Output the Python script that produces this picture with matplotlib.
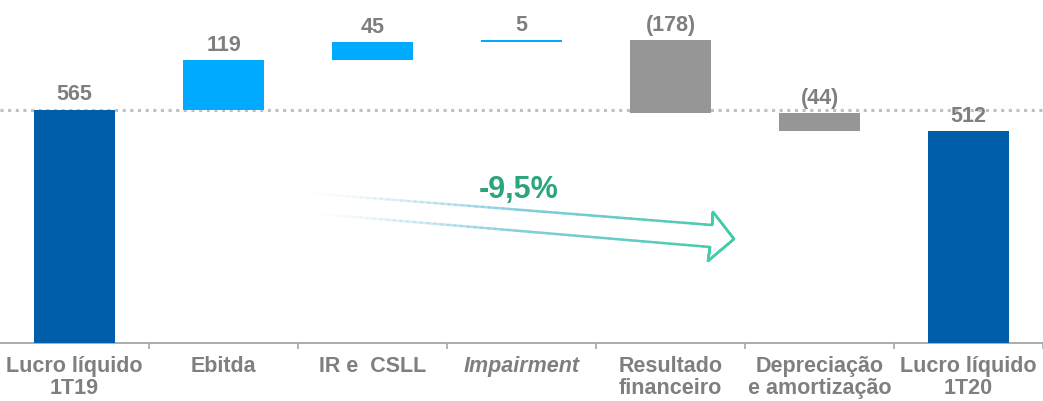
import numpy as np
import matplotlib
matplotlib.use("Agg")
import matplotlib.pyplot as plt
from matplotlib.collections import LineCollection
from matplotlib.colors import to_rgba

# ---- data ----
categories = ["Lucro líquido\n1T19", "Ebitda", "IR e  CSLL", "Impairment",
              "Resultado\nfinanceiro", "Depreciação\ne amortização", "Lucro líquido\n1T20"]
changes = [565, 119, 45, 5, -178, -44, 512]
kinds = ["total", "delta", "delta", "delta", "delta", "delta", "total"]
value_labels = ["565", "119", "45", "5", "(178)", "(44)", "512"]
growth_label = "-9,5%"

c_total = "#005DAA"
c_pos = "#00AAFF"
c_neg = "#969696"
c_text = "#7F7F7F"

plt.rcParams['font.family'] = ['Liberation Sans', 'DejaVu Sans']

fig = plt.figure(figsize=(10.43, 4.01), dpi=100)
ax = fig.add_axes([0, 1 - 343 / 401, 1, 343 / 401])

x = np.arange(len(categories))
bottoms, heights, colors = [], [], []
running = 0
for v, k in zip(changes, kinds):
    if k == "total":
        bottoms.append(0)
        heights.append(v)
        colors.append(c_total)
        running = v
    else:
        if v >= 0:
            bottoms.append(running)
            heights.append(v)
            colors.append(c_pos)
        else:
            bottoms.append(running + v)
            heights.append(-v)
            colors.append(c_neg)
        running += v

ax.bar(x, heights, bottom=bottoms, width=0.545, color=colors, zorder=3)

for xi, b, h, lab in zip(x, bottoms, heights, value_labels):
    ax.annotate(lab, (xi, b + h), xytext=(0, 3), textcoords="offset points",
                ha="center", va="bottom", fontsize=15.5, fontweight="bold",
                color=c_text, zorder=4)

# dotted reference line at starting value
ax.axhline(changes[0], color="#BFBFBF", linestyle=(0, (1, 1.5)), linewidth=2.2, zorder=2)

ax.set_xlim(-0.5, len(categories) - 0.5)
ax.set_ylim(0, 830)

for s in ["top", "left", "right"]:
    ax.spines[s].set_visible(False)
ax.spines["bottom"].set_color("#A6A6A6")
ax.spines["bottom"].set_linewidth(1.3)
ax.set_yticks([])
ax.set_xticks(x)
ax.set_xticklabels([])
ax.tick_params(axis="x", which="major", length=0)
ax.set_xticks(np.arange(len(categories)) + 0.5, minor=True)
ax.tick_params(axis="x", which="minor", length=4, width=1.2, color="#A6A6A6", direction="out")

for xi, lab in zip(x, categories):
    style = "italic" if lab == "Impairment" else "normal"
    ax.annotate(lab, (xi, 0), xytext=(0, -9.5), textcoords="offset points",
                ha="center", va="top", fontsize=15.5, fontweight="bold",
                fontstyle=style, color=c_text, linespacing=1.05,
                annotation_clip=False)

# gradient outline arrow (axes fraction)
def fx(px):
    return px / 1043.0

def fy(py):
    return 1 - py / 343.0

edges = [
    [(307, 193), (712, 225)],
    [(307, 213), (710, 247)],
    [(712, 225), (713, 212)],
    [(713, 212), (734, 239)],
    [(734, 239), (708, 261)],
    [(708, 261), (710, 247)],
]
c_start = np.array(to_rgba("#9ccfe6"))
c_mid = np.array(to_rgba("#86cde0"))
c_end = np.array(to_rgba("#3ECBA8"))

def col_at(px):
    t = np.clip((px - 307) / (734 - 307), 0, 1)
    if t < 0.5:
        c = c_start + (c_mid - c_start) * (t / 0.5)
        a = min(1.0, t / 0.5) ** 1.5
    else:
        c = c_mid + (c_end - c_mid) * ((t - 0.5) / 0.5)
        a = 1.0
    c = c.copy()
    c[3] = a
    return c

segs, cols = [], []
for (p0, p1) in edges:
    n = 60
    xs = np.linspace(p0[0], p1[0], n + 1)
    ys = np.linspace(p0[1], p1[1], n + 1)
    for i in range(n):
        segs.append([(fx(xs[i]), fy(ys[i])), (fx(xs[i + 1]), fy(ys[i + 1]))])
        cols.append(col_at((xs[i] + xs[i + 1]) / 2))
lc = LineCollection(segs, colors=cols, linewidths=1.8, transform=ax.transAxes,
                    capstyle="round", zorder=5)
ax.add_collection(lc)

ax.text(fx(519), fy(190), growth_label, transform=ax.transAxes, ha="center", va="center",
        fontsize=22, fontweight="bold", color="#2AA57E", zorder=6)

fig.savefig("out.png", dpi=100)
